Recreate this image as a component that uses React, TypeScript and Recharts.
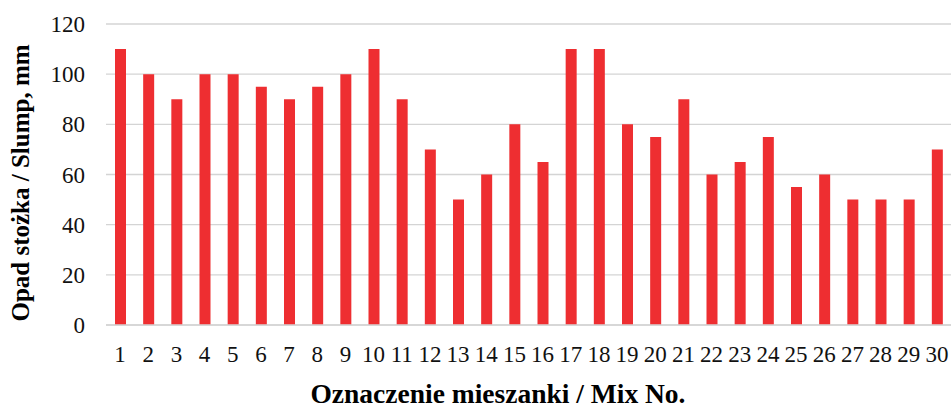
import React from 'react';
import { BarChart, Bar, XAxis, YAxis, CartesianGrid } from 'recharts';

const mixLabels = ['1','2','3','4','5','6','7','8','9','10','11','12','13','14','15','16','17','18','19','20','21','22','23','24','25','26','27','28','29','30'];
const slumpValues = [110,100,90,100,100,95,90,95,100,110,90,70,50,60,80,65,110,110,80,75,90,60,65,75,55,60,50,50,50,70];
const yTicks = [0,20,40,60,80,100,120];
const yTitle = 'Opad stożka  / Slump, mm';
const xTitle = 'Oznaczenie mieszanki / Mix No.';

const data = mixLabels.map((m, i) => ({ mix: m, slump: slumpValues[i] }));

const FONT = "'Liberation Serif'";

const XTick = (props: any) => {
  const { x, y, payload } = props;
  return (
    <text x={x} y={y + 37} textAnchor="middle" style={{ fontFamily: FONT, fontSize: 23 }} fill="#111">
      {payload.value}
    </text>
  );
};

const YTick = (props: any) => {
  const { x, y, payload } = props;
  return (
    <text x={x} y={y + 8} textAnchor="end" style={{ fontFamily: FONT, fontSize: 23 }} fill="#111">
      {payload.value}
    </text>
  );
};

export default function App() {
  return (
    <div style={{ position: 'absolute', left: 0, top: 0, width: 951, height: 408, background: '#fff' }}>
      <BarChart width={951} height={408} data={data} margin={{ top: 24, right: 0, bottom: 0, left: 0 }} barCategoryGap={0}>
        <CartesianGrid vertical={false} stroke="#d4d4d4" strokeWidth={1.4} />
        <XAxis
          dataKey="mix"
          height={83}
          interval={0}
          tickLine={false}
          tickSize={0}
          tickMargin={0}
          axisLine={{ stroke: '#d4d4d4', strokeWidth: 1.4 }}
          tick={<XTick />}
        />
        <YAxis
          width={106}
          domain={[0, 120]}
          ticks={yTicks}
          interval={0}
          axisLine={false}
          tickLine={false}
          tickSize={0}
          tickMargin={21}
          tick={<YTick />}
        />
        <Bar dataKey="slump" fill="#EE2E31" barSize={11} isAnimationActive={false} />
      </BarChart>
      <svg width={951} height={408} style={{ position: 'absolute', left: 0, top: 0, pointerEvents: 'none' }}>
        <text
          x={0}
          y={0}
          transform="translate(29,183) rotate(-90)"
          textAnchor="middle"
          style={{ fontFamily: FONT, fontWeight: 'bold', fontSize: 25 }}
          fill="#000"
        >
          {yTitle}
        </text>
        <text x={498} y={403} textAnchor="middle" style={{ fontFamily: FONT, fontWeight: 'bold', fontSize: 27.5 }} fill="#000">
          {xTitle}
        </text>
      </svg>
    </div>
  );
}
